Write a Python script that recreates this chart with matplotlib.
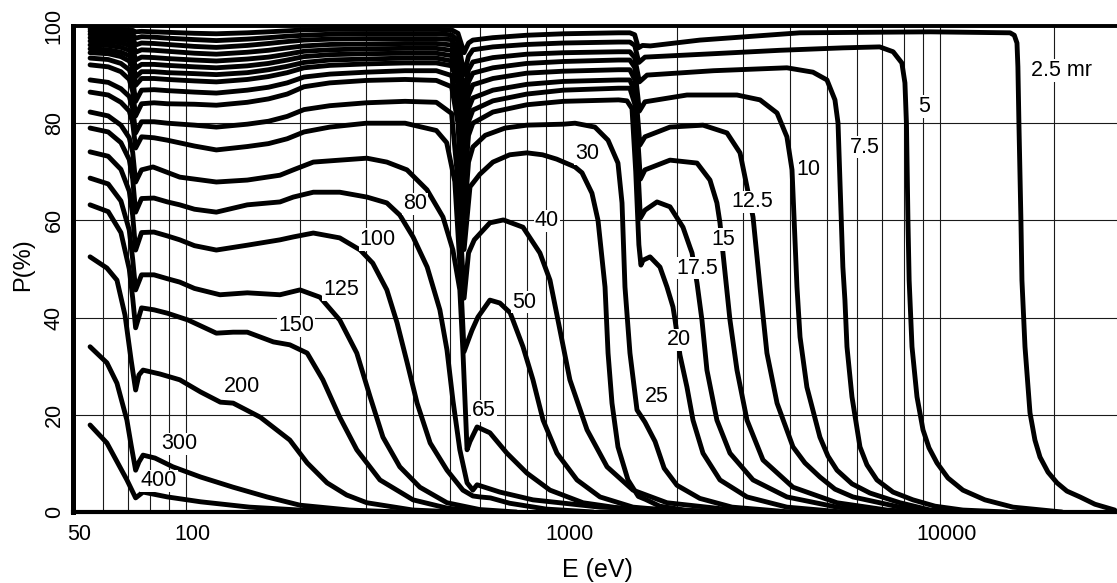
import matplotlib
matplotlib.use('Agg')
import matplotlib.pyplot as plt
from matplotlib.ticker import FixedLocator, NullFormatter
from matplotlib.transforms import ScaledTranslation

FONT = ['Liberation Sans', 'DejaVu Sans']
plt.rcParams['font.family'] = FONT

# ---------------- data (E in eV, P in %) ----------------
E_LOW = [55.5, 62, 67, 70.5, 72, 73.3, 76, 82, 89, 105, 120, 145, 165, 185, 205, 240, 300, 380, 460]

e_2p5 = E_LOW + [505, 525, 545, 560, 575, 650, 800, 1000, 1400, 1500, 1545, 1580, 1620, 1700, 2300, 4240, 9400,
                 15300, 15700, 15960, 16050, 16150, 16350, 16450, 16760, 17280, 17810, 18370, 19290, 20380,
                 21650, 23450, 25690, 29000]
p_2p5 = [99.4, 99.4, 99.3, 99.2, 99.1, 98.8, 98.9, 98.8, 98.7, 98.5, 98.4, 98.6, 98.8, 99.0, 99.2, 99.3, 99.3, 99.3, 99.3,
         99.2, 98.5, 94.5, 96.5, 97.1, 97.6, 98.1, 98.4, 98.6, 98.6, 98.2, 95.5, 96.0, 95.9, 97.1, 98.6, 98.8,
         98.6, 98.1, 96.5, 91.6, 80.0, 60.0, 47.7, 34.0, 20.4, 14.8, 11.3, 8.2, 6.0,
         4.3, 3.1, 1.6, 0.4]

e_5 = E_LOW + [505, 525, 545, 560, 575, 650, 800, 1000, 1400, 1500, 1545, 1585, 1645, 2500, 3750, 5500, 6900,
               7490, 7900, 8050, 8125, 8200, 8260, 8405, 8665, 8990, 9325, 9790, 10470, 11470, 13120, 15575, 21000]
p_5 = [98.9, 98.8, 98.7, 98.5, 98.3, 97.5, 97.8, 97.7, 97.5, 97.2, 97.0, 97.3, 97.6, 97.9, 98.1, 98.3, 98.4, 98.4, 98.4,
       98.2, 97.0, 90.0, 93.8, 95.1, 95.7, 96.2, 96.5, 96.7, 96.7, 96.0, 92.5, 93.6, 94.3, 95.0, 95.5, 95.7,
       94.7, 92.4, 88.3, 80.0, 60.0, 47.7, 34.0, 23.7, 16.9, 13.2, 10.1, 7.0, 4.5, 2.5, 1.0, 0.0]

e_7p5 = E_LOW + [505, 525, 545, 560, 575, 650, 800, 1000, 1400, 1500, 1545, 1590, 1666, 2500, 3915, 4590, 5000,
                 5250, 5350, 5415, 5510, 5580, 5650, 5825, 6117, 6383, 6784, 7485, 8454, 9670, 11470, 15000]
p_7p5 = [98.3, 98.2, 98.0, 97.7, 97.4, 96.1, 96.5, 96.4, 96.2, 95.8, 95.6, 96.0, 96.4, 96.8, 97.1, 97.3, 97.4, 97.4, 97.4,
         97.2, 95.5, 86.0, 91.0, 92.6, 93.5, 94.2, 94.5, 94.7, 94.7, 93.5, 88.5, 89.9, 90.8, 91.4, 90.5, 88.9,
         84.8, 80.0, 67.7, 50.4, 43.6, 34.0, 23.7, 13.4, 9.7, 6.6, 4.1, 2.5, 1.2, 0.4, 0.0]

e_10 = E_LOW + [505, 525, 545, 560, 575, 650, 800, 1000, 1400, 1500, 1545, 1590, 1645, 2126, 2886, 3322, 3686,
                3915, 4039, 4163, 4242, 4423, 4790, 5031, 5316, 5825, 6502, 7808, 9400, 12000]
p_10 = [97.6, 97.5, 97.3, 96.9, 96.5, 94.6, 95.1, 95.0, 94.8, 94.4, 94.2, 94.6, 95.0, 95.5, 95.9, 96.2, 96.3, 96.4, 96.4,
        96.1, 94.0, 82.0, 88.5, 90.3, 91.4, 92.3, 92.7, 93.0, 93.0, 91.5, 82.5, 84.4, 85.8, 85.8, 84.8, 82.1,
        77.2, 70.4, 46.3, 36.0, 25.7, 15.4, 11.5, 8.6, 5.8, 3.9, 1.9, 0.4, 0.0]

e_12p5 = E_LOW + [505, 525, 545, 560, 575, 650, 800, 1000, 1400, 1500, 1545, 1595, 1645, 1917, 2345, 2715, 2940,
                  3068, 3183, 3322, 3465, 3686, 4063, 4370, 4790, 5251, 5860, 7808, 10000]
p_12p5 = [96.9, 96.8, 96.5, 96.0, 95.4, 93.0, 93.6, 93.5, 93.3, 93.0, 92.8, 93.2, 93.6, 94.2, 94.8, 95.1, 95.3, 95.4, 95.4,
          95.0, 92.5, 78.0, 85.8, 87.9, 89.2, 90.3, 90.7, 91.0, 91.0, 89.0, 75.5, 77.2, 79.2, 79.6, 78.0, 73.9,
          66.9, 60.7, 46.3, 32.7, 22.4, 13.4, 10.1, 7.2, 4.7, 3.1, 1.0, 0.0]

e_15 = E_LOW + [505, 525, 545, 560, 575, 650, 800, 1000, 1400, 1500, 1545, 1600, 1645, 1917, 2261, 2447, 2553,
                2601, 2649, 2765, 2886, 3068, 3383, 4063, 5316, 7216, 9000]
p_15 = [96.1, 96.0, 95.6, 95.0, 94.2, 91.3, 92.1, 92.1, 91.9, 91.6, 91.4, 91.8, 92.3, 93.0, 93.7, 94.1, 94.3, 94.4, 94.4,
        93.9, 91.0, 74.0, 83.0, 85.2, 86.8, 88.0, 88.6, 88.9, 88.9, 86.5, 68.5, 70.4, 72.4, 71.8, 68.3, 63.6,
        59.5, 53.3, 39.5, 29.2, 18.9, 10.7, 5.1, 1.9, 0.4, 0.0]

e_17p5 = E_LOW + [505, 525, 545, 560, 575, 650, 800, 1000, 1400, 1500, 1545, 1600, 1645, 1771, 1917, 2075, 2165,
                  2193, 2261, 2330, 2402, 2553, 2765, 3183, 3915, 5316, 7000]
p_17p5 = [95.3, 95.1, 94.6, 93.9, 92.8, 89.5, 90.6, 90.6, 90.4, 90.2, 90.0, 90.4, 91.0, 91.7, 92.5, 93.0, 93.2, 93.4, 93.4,
          92.8, 89.5, 70.0, 80.3, 82.7, 84.6, 86.0, 86.8, 87.2, 87.2, 84.0, 60.5, 62.1, 63.8, 62.8, 58.6, 54.5,
          53.3, 47.1, 39.5, 29.2, 18.9, 12.1, 6.6, 3.1, 1.0, 0.0]

e_20 = E_LOW + [505, 525, 545, 560, 575, 650, 800, 1000, 1400, 1474, 1520, 1555, 1585, 1605, 1626, 1697, 1803,
                1882, 1952, 1977, 2037, 2126, 2206, 2345, 2601, 3068, 3915, 5500]
p_20 = [94.5, 94.3, 93.7, 92.8, 91.3, 87.8, 89.2, 89.2, 89.0, 88.7, 88.5, 89.0, 89.6, 90.4, 91.4, 91.9, 92.2, 92.4, 92.4,
        91.8, 88.0, 66.0, 77.5, 80.0, 82.3, 83.8, 84.5, 84.8, 84.6, 83.0, 70.0, 55.0, 50.8, 51.8, 52.5, 50.4,
        46.3, 42.2, 39.5, 32.3, 25.7, 18.9, 12.1, 6.6, 3.1, 1.0, 0.0]

e_25 = E_LOW + [505, 525, 545, 560, 575, 620, 700, 800, 1000, 1073, 1212, 1313, 1395, 1430, 1456, 1501, 1567,
                1645, 1750, 1850, 2000, 2300, 2800, 4000]
p_25 = [93.4, 93.1, 92.3, 91.0, 89.0, 84.5, 86.8, 86.9, 86.7, 86.4, 86.2, 86.8, 87.4, 88.3, 89.5, 90.1, 90.5, 90.8, 90.8,
        89.8, 84.0, 60.0, 72.0, 75.1, 77.5, 79.0, 79.6, 79.8, 80.0, 79.2, 76.5, 71.8, 63.6, 46.3, 32.7, 21.0,
        18.5, 14.5, 9.0, 5.5, 2.8, 1.0, 0.0]

e_30 = E_LOW + [505, 525, 545, 565, 600, 650, 720, 800, 880, 960, 1073, 1120, 1190, 1235, 1289, 1313, 1345,
                1395, 1483, 1580, 1650, 1800, 2100, 2600]
p_30 = [92.0, 91.6, 90.6, 89.0, 86.5, 81.5, 84.0, 84.2, 84.0, 83.9, 83.7, 84.3, 85.0, 86.0, 87.5, 88.3, 88.8, 89.0, 88.8,
        87.5, 80.0, 54.0, 66.9, 69.5, 72.0, 73.5, 73.9, 73.5, 72.6, 71.0, 69.8, 65.6, 60.0, 46.3, 32.7, 22.4,
        13.4, 6.6, 3.2, 2.6, 1.2, 0.4, 0.0]

e_40 = E_LOW + [505, 525, 545, 560, 580, 638, 693, 781, 866, 921, 979, 1040, 1155, 1305, 1529, 1882, 2820, 3500]
p_40 = [88.9, 88.4, 87.1, 85.5, 83.0, 78.0, 80.3, 80.3, 80.0, 79.6, 79.2, 79.8, 80.4, 81.4, 82.8, 83.6, 84.2, 84.5, 84.3,
        82.0, 68.0, 44.0, 53.3, 56.0, 59.5, 60.1, 58.6, 53.3, 47.7, 37.4, 27.2, 16.9, 9.3, 4.5, 1.9, 0.4, 0.0]

e_50 = E_LOW + [490, 515, 532, 545, 560, 572, 593, 638, 678, 722, 781, 830, 883, 961, 1086, 1250, 1529, 2000]
p_50 = [86.4, 85.8, 84.3, 82.5, 80.0, 74.9, 77.2, 77.0, 76.5, 75.3, 74.5, 75.2, 75.8, 76.8, 78.2, 79.2, 80.0, 80.0, 78.5,
        76.0, 68.0, 50.0, 33.0, 35.5, 37.4, 40.1, 43.6, 43.0, 41.0, 34.0, 27.2, 18.9, 12.1, 6.6, 3.1, 1.0, 0.2]

e_65 = [55.5, 62, 67, 70.5, 72, 73.3, 76, 81.5, 96, 120, 145, 177, 192, 217, 255, 301, 340, 384.5, 434.5, 479,
        509, 531, 541, 548, 555, 565, 590, 638, 708, 800, 921, 1127, 1529, 2000]
p_65 = [82.3, 81.5, 79.6, 77.0, 74.0, 67.9, 70.4, 71.0, 68.9, 67.9, 68.3, 69.3, 70.4, 72.0, 72.4, 72.8, 72.0, 70.4,
        66.3, 60.7, 53.9, 45.7, 33.3, 23.0, 12.8, 14.5, 17.5, 16.3, 12.1, 8.0, 4.5, 1.9, 0.4, 0.0]

e_80 = [55.5, 62, 67, 70.5, 72, 73.3, 76, 82, 89, 96, 105, 120, 145, 177, 192, 217, 255, 301, 340, 368,
        399, 435, 470, 491, 509, 531, 555, 575, 590, 678, 830, 1250, 2300]
p_80 = [79.0, 78.2, 76.0, 72.5, 68.5, 61.7, 64.5, 64.6, 63.8, 63.2, 62.3, 61.7, 63.2, 63.8, 64.8, 65.8, 65.8, 64.8,
        63.6, 61.1, 56.6, 50.4, 41.6, 33.3, 23.0, 12.8, 6.0, 4.5, 5.6, 4.1, 2.5, 1.0, 0.2]

e_100 = [55.5, 62, 67, 70.5, 72, 73.3, 76, 82, 89, 96, 105, 120, 145, 177, 192, 217, 255, 289, 312, 340,
         362, 385, 409, 443, 491, 541, 575, 600, 640, 720, 900, 1200]
p_100 = [74.1, 73.2, 70.5, 66.0, 61.0, 53.9, 57.5, 57.6, 56.8, 56.0, 54.8, 53.9, 54.9, 56.0, 56.6, 57.4, 56.4, 53.9,
         51.2, 45.7, 38.9, 30.7, 22.4, 14.2, 8.6, 4.5, 3.3, 3.1, 2.9, 1.8, 0.6, 0.0]

e_125 = [55.5, 62, 67, 70.5, 72, 73.3, 76, 82, 89, 96, 105, 122.7, 145, 177, 200, 226, 255, 283, 307, 332,
         368, 416, 491, 600, 750]
p_125 = [68.7, 67.5, 64.0, 58.0, 52.0, 45.7, 48.8, 48.8, 48.0, 47.3, 46.0, 44.7, 45.1, 44.7, 45.7, 44.2, 39.5, 32.7,
         23.7, 15.4, 9.3, 5.1, 1.9, 0.5, 0.0]

e_150 = [55.5, 62, 67, 70.5, 72, 73.3, 76, 82, 89, 101, 120, 133, 145, 170, 188, 209, 230, 255, 283, 326,
         399, 491, 620]
p_150 = [63.2, 61.8, 57.5, 50.0, 44.0, 37.9, 42.0, 41.6, 40.9, 39.5, 36.8, 37.0, 37.0, 35.0, 34.4, 32.7, 27.2, 19.5,
         12.8, 6.6, 2.5, 0.8, 0.0]

e_200 = [55.5, 61.5, 65.4, 68.7, 71.3, 73.3, 74.8, 76.7, 85, 96, 109, 123, 133, 157, 188, 209, 236, 266, 301, 399, 531]
p_200 = [52.5, 50.2, 47.7, 40.5, 31.3, 25.1, 28.2, 29.2, 28.4, 27.2, 24.7, 22.6, 22.4, 19.5, 14.8, 10.1, 6.0, 3.5,
         1.9, 0.4, 0.0]

e_300 = [55.5, 61.5, 65.4, 69.5, 71.3, 73.3, 74.8, 76.7, 82.5, 92, 109, 133, 163.5, 200, 271, 368]
p_300 = [34.0, 30.7, 26.5, 18.9, 13.8, 8.6, 10.3, 11.7, 11.1, 9.3, 7.2, 5.1, 3.1, 1.4, 0.4, 0.0]

e_400 = [55.5, 61.5, 69.5, 73.3, 76.7, 89, 109, 147, 200, 368]
p_400 = [17.9, 14.2, 6.6, 2.9, 4.1, 3.1, 2.1, 1.0, 0.4, 0.0]

curve_labels = ['2.5 mr', '5', '7.5', '10', '12.5', '15', '17.5', '20', '25', '30',
                '40', '50', '65', '80', '100', '125', '150', '200', '300', '400']
label_e = [21000, 9040, 6310, 4452, 3163, 2649, 2261, 2025, 1771, 1155,
           904, 786, 615, 404, 322, 257, 195, 140, 95.5, 84.6]
label_p = [90.9, 83.5, 75.1, 70.4, 63.8, 56.0, 50.2, 35.4, 23.7, 73.7,
           59.9, 43.2, 20.8, 63.4, 56.0, 45.7, 38.3, 25.9, 14.0, 6.4]

x_major = [50, 100, 1000, 10000]
x_major_labels = ['50', '100', '1000', '10000']
x_minor = [60, 70, 80, 90, 200, 300, 400, 500, 600, 700, 800, 900,
           2000, 3000, 4000, 5000, 6000, 7000, 8000, 9000, 20000]
y_ticks = [0, 20, 40, 60, 80, 100]
y_tick_labels = ['0', '20', '40', '60', '80', '100']

series = [(e_2p5, p_2p5), (e_5, p_5), (e_7p5, p_7p5), (e_10, p_10), (e_12p5, p_12p5),
          (e_15, p_15), (e_17p5, p_17p5), (e_20, p_20), (e_25, p_25), (e_30, p_30),
          (e_40, p_40), (e_50, p_50), (e_65, p_65), (e_80, p_80), (e_100, p_100),
          (e_125, p_125), (e_150, p_150), (e_200, p_200), (e_300, p_300), (e_400, p_400)]

# ---------------- figure ----------------
W, H = 1117, 583
fig = plt.figure(figsize=(W / 100, H / 100), dpi=100)
ax = fig.add_axes([73 / W, 1 - 512 / H, 1 - 73 / W, (512 - 26) / H])
ax.set_xscale('log')
ax.set_xlim(50, 29400)
ax.set_ylim(0, 100)

ax.set_xticks(x_major)
ax.set_xticklabels(x_major_labels)
ax.xaxis.set_minor_locator(FixedLocator(x_minor))
ax.xaxis.set_minor_formatter(NullFormatter())
ax.set_yticks(y_ticks)
ax.set_yticklabels(y_tick_labels, rotation=90, va='center')
ax.tick_params(axis='both', which='both', length=0)
ax.tick_params(axis='x', pad=9, labelsize=15.5)
ax.tick_params(axis='y', pad=6, labelsize=15.5)
for lbl in ax.get_xticklabels():
    lbl.set_transform(lbl.get_transform() + ScaledTranslation(0.06, 0, fig.dpi_scale_trans))

ax.set_axisbelow(True)
ax.grid(True, which='both', color='#1a1a1a', lw=0.8)

ax.spines['right'].set_visible(False)
ax.spines['left'].set_linewidth(3.6)
ax.spines['bottom'].set_linewidth(3.0)
ax.spines['top'].set_linewidth(2.8)

for e, p in series:
    ax.plot(e, p, color='black', lw=3.5, solid_joinstyle='round', solid_capstyle='round', zorder=3)

for txt, e, p in zip(curve_labels, label_e, label_p):
    ax.text(e, p, txt, fontsize=15.5, ha='center', va='center', zorder=6,
            bbox=dict(facecolor='white', edgecolor='none', pad=0.6))

fig.text(23 / W, 1 - 265 / H, 'P(%)', rotation=90, ha='center', va='center', fontsize=17)
fig.text(597 / W, 1 - 570 / H, 'E (eV)', ha='center', va='center', fontsize=18)

fig.savefig('out.png', dpi=100, facecolor='white')
